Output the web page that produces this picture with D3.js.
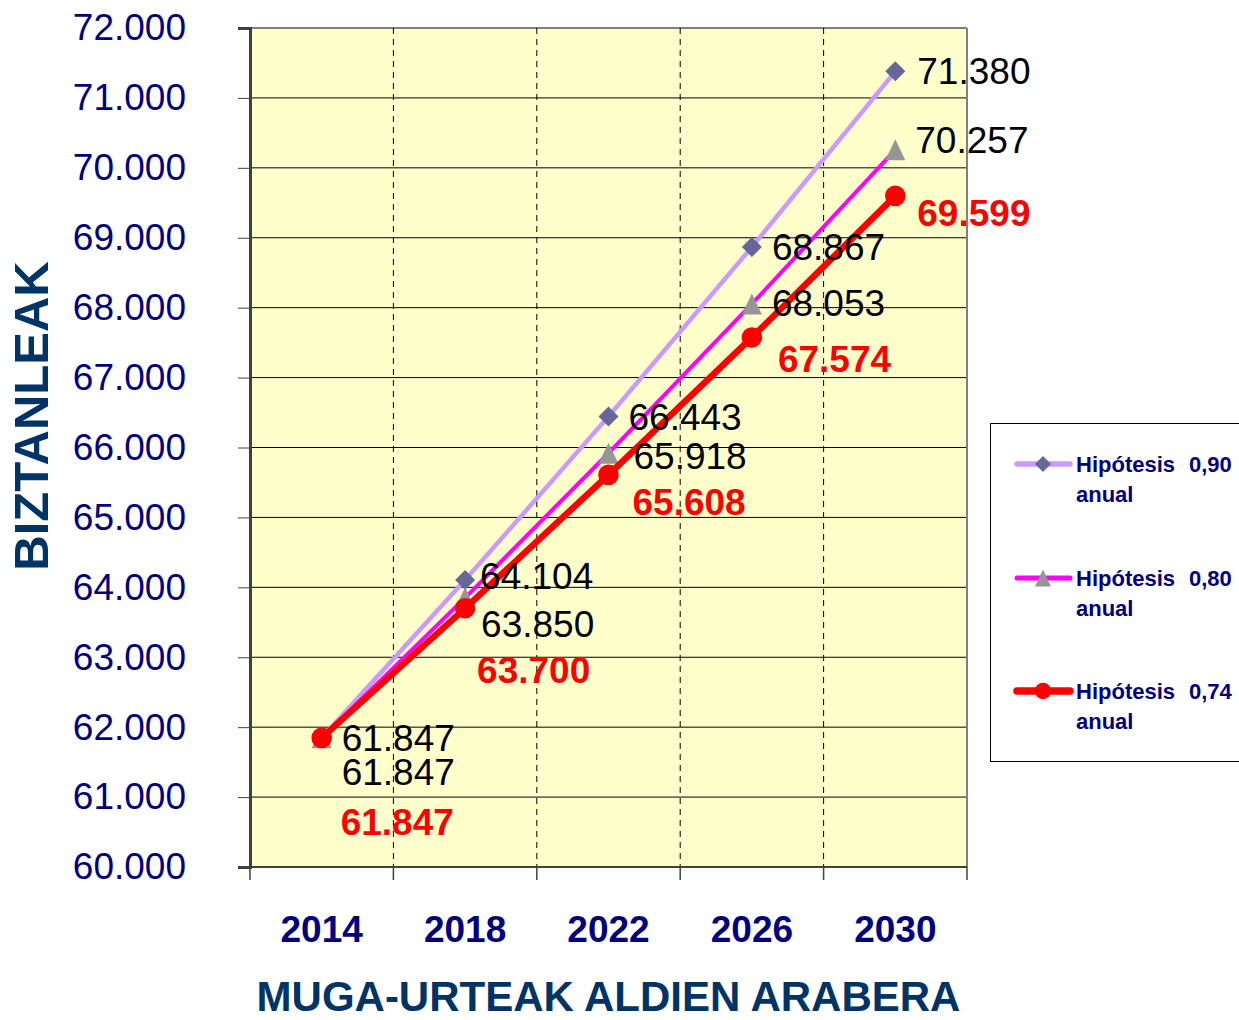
<!DOCTYPE html>
<html>
<head>
<meta charset="utf-8">
<script src="https://cdn.jsdelivr.net/npm/d3@7"></script>
<style>
  body { margin: 0; background: #fff; }
  svg { display: block; font-family: "Liberation Sans", Arial, sans-serif; }
</style>
</head>
<body>
<svg width="1239" height="1020"></svg>
<script>
// Dados
const years = ["2014", "2018", "2022", "2026", "2030"];
const hip090 = [61847, 64104, 66443, 68867, 71380];
const hip080 = [61847, 63850, 65918, 68053, 70257];
const hip074 = [61847, 63700, 65608, 67574, 69599];
const seriesNames = ["Hipótesis", "Hipótesis", "Hipótesis"];
const seriesRates = ["0,90", "0,80", "0,74"];
const yTicks = [60000, 61000, 62000, 63000, 64000, 65000, 66000, 67000, 68000, 69000, 70000, 71000, 72000];

// Deslocamentos das etiquetas (posicionadas à mão no original)
const labelShift = [
  [[20, 0], [15, -4], [20, 0], [20, 0], [22, 0]],
  [[20, 34], [16, 26], [25, 3], [20, -1], [20, -10]],
  [[19, 84], [12, 62], [24, 27], [26, 22], [22, 17]]
];

const svg = d3.select("svg");
const plotLeft = 250, plotRight = 967, plotTop = 28, plotBottom = 867;

const x = d3.scaleBand().domain(years).range([plotLeft, plotRight]).padding(0);
const y = d3.scaleLinear().domain([60000, 72000]).range([plotBottom, plotTop]);

const locale = d3.formatLocale({ decimal: ",", thousands: ".", grouping: [3], currency: ["", "€"] });
const fmt = locale.format(",d");

const navy = "#000080";
const titleBlue = "#003366";

// Fundo da área do gráfico
svg.append("rect")
  .attr("x", plotLeft).attr("y", plotTop)
  .attr("width", plotRight - plotLeft).attr("height", plotBottom - plotTop)
  .attr("fill", "#FFFFCC");

// Linhas de grelha horizontais
svg.append("g")
  .selectAll("line")
  .data(yTicks.slice(1))
  .join("line")
  .attr("x1", plotLeft).attr("x2", plotRight)
  .attr("y1", d => y(d)).attr("y2", d => y(d))
  .attr("stroke", d => d === 72000 ? "#808080" : "#000")
  .attr("stroke-width", d => d === 72000 ? 2 : 1);

// Linhas verticais tracejadas entre categorias
const bounds = years.map((d, i) => plotLeft + x.step() * i).concat([plotRight]);
svg.append("g")
  .selectAll("line")
  .data(bounds.slice(1, -1))
  .join("line")
  .attr("x1", d => d).attr("x2", d => d)
  .attr("y1", plotTop).attr("y2", plotBottom)
  .attr("stroke", "#000")
  .attr("stroke-dasharray", "6,5");

// Borda direita
svg.append("line")
  .attr("x1", plotRight).attr("x2", plotRight).attr("y1", plotTop).attr("y2", plotBottom)
  .attr("stroke", "#808080").attr("stroke-width", 2);

// Eixo Y
const yAxis = svg.append("g")
  .attr("transform", `translate(${plotLeft},0)`)
  .call(d3.axisLeft(y).tickValues(yTicks).tickFormat(fmt).tickSize(12).tickPadding(52));
yAxis.select(".domain").attr("stroke", "#404040").attr("stroke-width", 3);
yAxis.selectAll(".tick line").attr("stroke", "#404040");
yAxis.selectAll(".tick text")
  .attr("fill", navy)
  .style("font-size", "37px")
  .style("font-family", "'Liberation Sans', Arial, sans-serif");

// Eixo X
svg.append("line")
  .attr("x1", plotLeft).attr("x2", plotRight).attr("y1", plotBottom).attr("y2", plotBottom)
  .attr("stroke", "#404040").attr("stroke-width", 2);
svg.append("g")
  .selectAll("line")
  .data(bounds)
  .join("line")
  .attr("x1", d => d).attr("x2", d => d)
  .attr("y1", plotBottom).attr("y2", plotBottom + 13)
  .attr("stroke", "#404040").attr("stroke-width", 1.5);

const xAxis = svg.append("g")
  .attr("transform", `translate(0,${plotBottom})`)
  .call(d3.axisBottom(x).tickSize(0).tickPadding(49));
xAxis.select(".domain").remove();
xAxis.selectAll(".tick text")
  .attr("fill", navy)
  .style("font-size", "37px")
  .style("font-weight", "bold")
  .style("font-family", "'Liberation Sans', Arial, sans-serif");

// Títulos dos eixos
svg.append("text")
  .attr("x", (plotLeft + plotRight) / 2).attr("y", 1011)
  .attr("text-anchor", "middle")
  .attr("fill", titleBlue)
  .style("font-size", "42px").style("font-weight", "bold")
  .text("MUGA-URTEAK ALDIEN ARABERA");

svg.append("text")
  .attr("transform", "translate(48,416) rotate(-90)")
  .attr("text-anchor", "middle")
  .attr("fill", titleBlue)
  .style("font-size", "49px").style("font-weight", "bold")
  .text("BIZTANLEAK");

// Séries
const series = [
  { values: hip090, line: "#CC99FF", width: 4.5, marker: "diamond", mcolor: "#666699", label: "#000", bold: false },
  { values: hip080, line: "#FF00FF", width: 4, marker: "triangle", mcolor: "#969696", label: "#000", bold: false },
  { values: hip074, line: "#FF0000", width: 6.5, marker: "circle", mcolor: "#FF0000", label: "#FF0000", bold: true }
];

const cx = d => x(d) + x.bandwidth() / 2;

function drawMarker(g, type, color, px, py, scale) {
  if (type === "circle") {
    g.append("circle").attr("cx", px).attr("cy", py).attr("r", 10.3 * scale).attr("fill", color);
  } else if (type === "diamond") {
    g.append("path")
      .attr("d", d3.symbol().type(d3.symbolSquare).size(200 * scale * scale)())
      .attr("transform", `translate(${px},${py}) rotate(45)`)
      .attr("fill", color);
  } else {
    const w = 10 * scale, h = 10.5 * scale;
    g.append("path")
      .attr("d", `M0,${-h}L${w},${h}L${-w},${h}Z`)
      .attr("transform", `translate(${px},${py})`)
      .attr("fill", color);
  }
}

const line = d3.line().x((d, i) => cx(years[i])).y(d => y(d));

series.forEach(s => {
  const g = svg.append("g");
  g.append("path")
    .datum(s.values)
    .attr("d", line)
    .attr("fill", "none")
    .attr("stroke", s.line)
    .attr("stroke-width", s.width);
  s.values.forEach((v, i) => drawMarker(g, s.marker, s.mcolor, cx(years[i]), y(v), 1));
});

// Etiquetas de dados
series.forEach((s, si) => {
  svg.append("g")
    .selectAll("text")
    .data(s.values)
    .join("text")
    .attr("x", (d, i) => cx(years[i]) + labelShift[si][i][0])
    .attr("y", (d, i) => y(d) + labelShift[si][i][1] + 13)
    .attr("fill", s.label)
    .style("font-size", "37px")
    .style("font-weight", s.bold ? "bold" : "normal")
    .text(d => fmt(d));
});

// Legenda
const legend = svg.append("g");
legend.append("rect")
  .attr("x", 990.5).attr("y", 423.5)
  .attr("width", 270).attr("height", 338)
  .attr("fill", "#fff")
  .attr("stroke", "#000").attr("stroke-width", 1);

const legendY = [464, 578, 691];
series.forEach((s, i) => {
  const ly = legendY[i];
  legend.append("line")
    .attr("x1", 1017).attr("x2", 1070)
    .attr("y1", ly).attr("y2", ly)
    .attr("stroke", s.line)
    .attr("stroke-width", s.width + 1)
    .attr("stroke-linecap", "round");
  drawMarker(legend, s.marker, s.mcolor, 1043, ly, 0.8);
  const t = legend.append("text")
    .attr("fill", navy)
    .style("font-size", "22px").style("font-weight", "bold");
  t.append("tspan").attr("x", 1076).attr("y", ly + 8).text(seriesNames[i]);
  t.append("tspan").attr("x", 1189).attr("y", ly + 8).text(seriesRates[i]);
  t.append("tspan").attr("x", 1076).attr("y", ly + 38).text("anual");
});
</script>
</body>
</html>
